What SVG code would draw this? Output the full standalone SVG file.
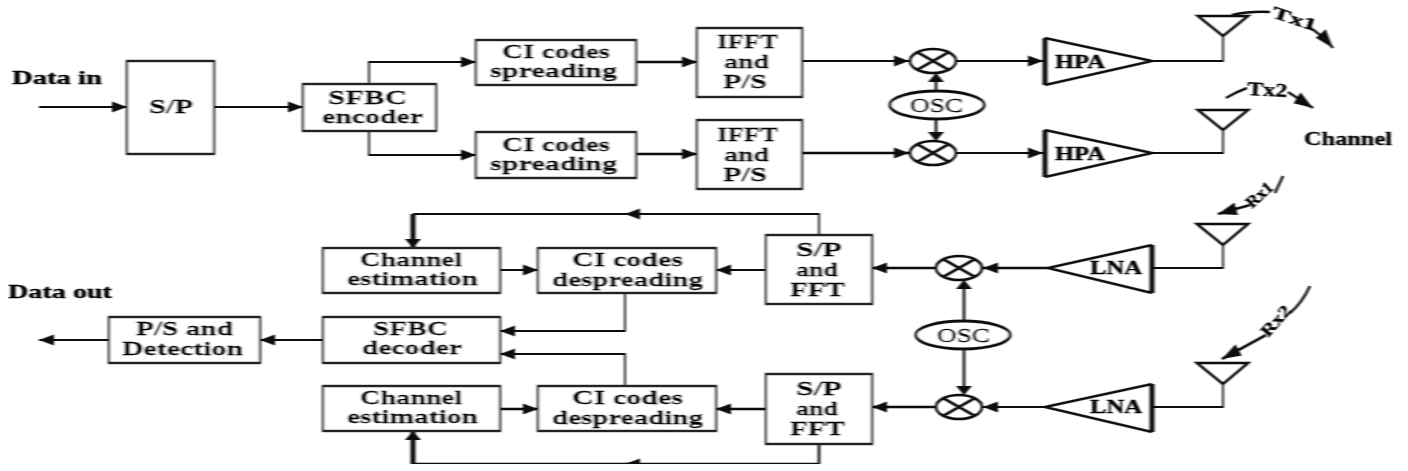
<svg xmlns="http://www.w3.org/2000/svg" width="1408" height="471" viewBox="0 0 1408 471">
<style>
text{font-family:"Liberation Serif","Times New Roman",serif;font-size:19.5px;font-weight:bold;fill:#000;stroke:#000;stroke-width:.35;text-anchor:start}
.o{font-weight:normal;font-size:19.5px;stroke-width:.5}
.r{font-size:17px}
.b{fill:#fff;stroke:#222;stroke-width:2.4}
.w{fill:#fff;stroke:#111;stroke-width:3}
.x{fill:none;stroke:#111;stroke-width:2.6}
.l{fill:none;stroke:#111;stroke-width:1.8}
.m{stroke-width:2.6}
.t{fill:none;stroke:#111;stroke-width:5}
.h{marker-end:url(#ah)}
.v{marker-end:url(#av)}
.d{marker-end:url(#ad)}
</style>
<defs>
<marker id="ah" markerUnits="userSpaceOnUse" markerWidth="16" markerHeight="13" refX="15" refY="6" orient="auto"><path d="M0,0.5 L15,6 L0,11.5Z" fill="#111"/></marker>
<marker id="av" markerUnits="userSpaceOnUse" markerWidth="10" markerHeight="18" refX="9" refY="9" orient="auto"><path d="M0,1 L9,9 L0,17Z" fill="#111"/></marker>
<marker id="ad" markerUnits="userSpaceOnUse" markerWidth="20" markerHeight="15" refX="19" refY="7" orient="auto"><path d="M0,0.5 L19,7 L0,13.5Z" fill="#111"/></marker>
<filter id="soft" x="0" y="0" width="1" height="1" filterUnits="objectBoundingBox"><feGaussianBlur stdDeviation="0.8 0.45"/></filter>
</defs>
<rect width="1408" height="471" fill="#fff"/>
<g filter="url(#soft)">
<g id="connectors">
<path class="l h" d="M39 107H127"/>
<path class="l h" d="M214 107H303"/>
<path class="l h" d="M369 84V62H476"/>
<path class="l h" d="M369 131V155H476"/>
<path class="l m h" d="M636 62H697"/>
<path class="l m h" d="M636 154H697"/>
<path class="l h" d="M802 61H909"/>
<path class="l m h" d="M802 153H909"/>
<path class="l h" d="M957 61H1043"/>
<path class="l h" d="M957 153H1043"/>
<path class="l m v" d="M936 91V73"/>
<path class="l m v" d="M936 119V141"/>
<path class="l" d="M1152 61H1223V36"/>
<path class="l" d="M1152 153H1223V130"/>
<path class="l" d="M1152 268H1223V245"/>
<path class="l" d="M1152 407H1223V384"/>
<path class="l m h" d="M1048 268H983"/>
<path class="l h" d="M1045 407H983"/>
<path class="l m h" d="M935 268H872"/>
<path class="l m h" d="M935 407H872"/>
<path class="l h" d="M766 270H716"/>
<path class="l m h" d="M766 409H716"/>
<path class="l h" d="M500 270H538"/>
<path class="l m h" d="M500 409H538"/>
<path class="l h" d="M323 340H260"/>
<path class="l h" d="M109 340H39"/>
<path class="l h" d="M625 293V331H500"/>
<path class="l h" d="M625 386V354H500"/>
<path class="l m v" d="M964 321V280"/>
<path class="l m v" d="M964 349V395"/>
<path class="l h" d="M819 235V214H625"/>
<path class="l" d="M640 214H413"/>
<path class="t v" d="M413 214V248"/>
<path class="l m h" d="M819 444V464H625"/>
<path class="l m" d="M640 464H413"/>
<path class="t v" d="M413 464V431"/>
<path class="l m" d="M1232 15Q1250 11 1270 12"/>
<path class="l m d" d="M1309 27Q1322 35 1333 48"/>
<path class="l m" d="M1226 98Q1236 92 1247 88"/>
<path class="l m d" d="M1288 92L1313 108"/>
<path class="l m d" d="M1250 205L1218 214"/>
<path class="l m" d="M1275 193L1283 176"/>
<path class="l m d" d="M1266 335L1222 359"/>
<path class="l m" d="M1290 313Q1302 303 1310 286"/>
</g>
<g id="labels">
<text x="12" y="84" textLength="90" lengthAdjust="spacingAndGlyphs">Data in</text>
<text x="8" y="298" textLength="104" lengthAdjust="spacingAndGlyphs">Data out</text>
<text x="1304" y="145" textLength="88" lengthAdjust="spacingAndGlyphs">Channel</text>
<text class="r" x="1271" y="17" textLength="46" lengthAdjust="spacingAndGlyphs" transform="rotate(18 1271 17)">Tx1</text>
<text x="1247" y="95" textLength="40" lengthAdjust="spacingAndGlyphs" transform="rotate(3 1247 95)">Tx2</text>
<text class="r" x="1252" y="209" textLength="30" lengthAdjust="spacingAndGlyphs" transform="rotate(-42 1252 209)">Rx1</text>
<text class="r" x="1268" y="338" textLength="36" lengthAdjust="spacingAndGlyphs" transform="rotate(-48 1268 338)">Rx2</text>
</g>
<g id="sp-tx"><rect class="b" x="127" y="61" width="87" height="93"/><text x="149" y="113" textLength="44" lengthAdjust="spacingAndGlyphs">S/P</text></g>
<g id="sfbc-encoder"><rect class="b" x="303" y="84" width="133" height="47"/><text x="328" y="104" textLength="79" lengthAdjust="spacingAndGlyphs">SFBC</text><text x="322" y="123" textLength="101" lengthAdjust="spacingAndGlyphs">encoder</text></g>
<g id="ci-spread-1"><rect class="b" x="476" y="40" width="160" height="45"/><text x="502" y="58" textLength="108" lengthAdjust="spacingAndGlyphs">CI codes</text><text x="490" y="77" textLength="127" lengthAdjust="spacingAndGlyphs">spreading</text></g>
<g id="ci-spread-2"><rect class="b" x="476" y="132" width="160" height="46"/><text x="502" y="151" textLength="108" lengthAdjust="spacingAndGlyphs">CI codes</text><text x="490" y="170" textLength="127" lengthAdjust="spacingAndGlyphs">spreading</text></g>
<g id="ifft-1"><rect class="b" x="697" y="28" width="105" height="69"/><text x="717" y="48" textLength="61" lengthAdjust="spacingAndGlyphs">IFFT</text><text x="724" y="68" textLength="45" lengthAdjust="spacingAndGlyphs">and</text><text x="723" y="88" textLength="44" lengthAdjust="spacingAndGlyphs">P/S</text></g>
<g id="ifft-2"><rect class="b" x="697" y="120" width="105" height="69"/><text x="717" y="141" textLength="61" lengthAdjust="spacingAndGlyphs">IFFT</text><text x="724" y="161" textLength="45" lengthAdjust="spacingAndGlyphs">and</text><text x="723" y="181" textLength="44" lengthAdjust="spacingAndGlyphs">P/S</text></g>
<g id="mixer-tx-1"><ellipse class="x" cx="933" cy="61" rx="23" ry="12"/><path class="x" d="M917 52L949 70M917 70L949 52"/></g>
<g id="mixer-tx-2"><ellipse class="x" cx="933" cy="153" rx="23" ry="12"/><path class="x" d="M917 144L949 162M917 162L949 144"/></g>
<g id="osc-tx"><ellipse class="w" cx="937" cy="105" rx="47" ry="14"/><text class="o" x="910" y="112" textLength="53" lengthAdjust="spacingAndGlyphs">OSC</text></g>
<g id="hpa-1"><path class="x" d="M1045 38L1152 61L1045 85"/><path class="t" d="M1045 38V85"/><text x="1055" y="68" textLength="50" lengthAdjust="spacingAndGlyphs">HPA</text></g>
<g id="hpa-2"><path class="x" d="M1045 130L1152 153L1045 177"/><path class="t" d="M1045 130V177"/><text x="1055" y="160" textLength="50" lengthAdjust="spacingAndGlyphs">HPA</text></g>
<g id="ant-tx-1"><path class="x" d="M1198 16H1248L1223 36Z"/></g>
<g id="ant-tx-2"><path class="x" d="M1198 110H1248L1223 130Z"/></g>
<g id="ant-rx-1"><path class="x" d="M1197 224H1248L1223 245Z"/></g>
<g id="ant-rx-2"><path class="x" d="M1197 363H1248L1223 384Z"/></g>
<g id="lna-1"><path class="x" d="M1152 245L1048 268L1152 293"/><path class="t" d="M1152 245V293"/><text x="1090" y="274" textLength="52" lengthAdjust="spacingAndGlyphs">LNA</text></g>
<g id="lna-2"><path class="x" d="M1152 384L1045 407L1152 432"/><path class="t" d="M1152 384V432"/><text x="1090" y="413" textLength="52" lengthAdjust="spacingAndGlyphs">LNA</text></g>
<g id="mixer-rx-1"><ellipse class="x" cx="959" cy="268" rx="23" ry="12"/><path class="x" d="M943 259L975 277M943 277L975 259"/></g>
<g id="mixer-rx-2"><ellipse class="x" cx="959" cy="407" rx="23" ry="12"/><path class="x" d="M943 398L975 416M943 416L975 398"/></g>
<g id="osc-rx"><ellipse class="w" cx="963" cy="335" rx="47" ry="14"/><text class="o" x="937" y="342" textLength="53" lengthAdjust="spacingAndGlyphs">OSC</text></g>
<g id="sp-fft-1"><rect class="b" x="766" y="235" width="106" height="69"/><text x="796" y="256" textLength="46" lengthAdjust="spacingAndGlyphs">S/P</text><text x="796" y="276" textLength="42" lengthAdjust="spacingAndGlyphs">and</text><text x="790" y="296" textLength="55" lengthAdjust="spacingAndGlyphs">FFT</text></g>
<g id="sp-fft-2"><rect class="b" x="766" y="374" width="106" height="70"/><text x="796" y="395" textLength="46" lengthAdjust="spacingAndGlyphs">S/P</text><text x="796" y="415" textLength="42" lengthAdjust="spacingAndGlyphs">and</text><text x="790" y="435" textLength="55" lengthAdjust="spacingAndGlyphs">FFT</text></g>
<g id="ci-despread-1"><rect class="b" x="538" y="248" width="178" height="45"/><text x="572" y="266" textLength="111" lengthAdjust="spacingAndGlyphs">CI codes</text><text x="552" y="286" textLength="151" lengthAdjust="spacingAndGlyphs">despreading</text></g>
<g id="ci-despread-2"><rect class="b" x="538" y="386" width="178" height="45"/><text x="572" y="404" textLength="111" lengthAdjust="spacingAndGlyphs">CI codes</text><text x="552" y="424" textLength="151" lengthAdjust="spacingAndGlyphs">despreading</text></g>
<g id="chan-est-1"><rect class="b" x="323" y="248" width="177" height="45"/><text x="360" y="266" textLength="102" lengthAdjust="spacingAndGlyphs">Channel</text><text x="347" y="285" textLength="131" lengthAdjust="spacingAndGlyphs">estimation</text></g>
<g id="chan-est-2"><rect class="b" x="323" y="386" width="177" height="45"/><text x="360" y="404" textLength="102" lengthAdjust="spacingAndGlyphs">Channel</text><text x="347" y="423" textLength="131" lengthAdjust="spacingAndGlyphs">estimation</text></g>
<g id="sfbc-decoder"><rect class="b" x="323" y="317" width="177" height="46"/><text x="373" y="335" textLength="75" lengthAdjust="spacingAndGlyphs">SFBC</text><text x="362" y="354" textLength="100" lengthAdjust="spacingAndGlyphs">decoder</text></g>
<g id="ps-detection"><rect class="b" x="109" y="317" width="151" height="46"/><text x="136" y="335" textLength="97" lengthAdjust="spacingAndGlyphs">P/S and</text><text x="122" y="355" textLength="121" lengthAdjust="spacingAndGlyphs">Detection</text></g>
</g>
</svg>
